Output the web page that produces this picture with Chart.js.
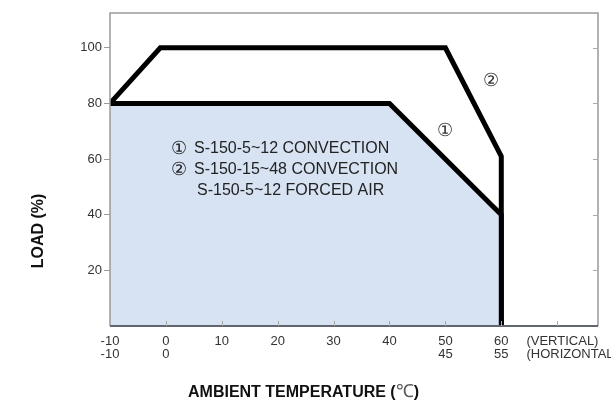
<!DOCTYPE html>
<html>
<head>
<meta charset="utf-8">
<script src="https://cdn.jsdelivr.net/npm/chart.js@4/dist/chart.umd.min.js"></script>
<style>
	html, body { margin: 0; padding: 0; background: #fff; }
	#wrap { width: 611px; height: 404px; }
</style>
</head>
<body>
<div id="wrap"><canvas id="derating"></canvas></div>
<script>
	/*-----data-----*/
	var tempConv = [-10, 40, 60, 60];          // curve 1
	var loadConv = [80, 80, 40, 0];
	var tempForced = [-10, -1, 50, 60, 60];    // curve 2
	var loadForced = [80, 100, 100, 61, 0];

	var xTicks = [-10, 0, 10, 20, 30, 40, 50, 60, 70];
	var xTicksVertical = ['-10', '0', '10', '20', '30', '40', '50', '60', ''];
	var xTicksHorizontal = ['-10', '0', '', '', '', '', '45', '55', ''];
	var yTicks = [20, 40, 60, 80, 100];

	var noteLines = ['S-150-5~12 CONVECTION', 'S-150-15~48 CONVECTION', 'S-150-5~12 FORCED AIR'];
	var noteMarks = ['\u2460', '\u2461', ''];

	var FONT = "'Liberation Sans', Arial, sans-serif";

	function pts(xs, ys) {
		return xs.map(function(x, i) { return { x: x, y: ys[i] }; });
	}

	/*-----frame, inner ticks and labels-----*/
	var extras = {
		id: 'extras',
		afterDatasetsDraw: function(chart) {
			var ctx = chart.ctx, a = chart.chartArea;
			var sx = chart.scales.x, sy = chart.scales.y;
			ctx.save();

			// frame
			ctx.strokeStyle = '#9a9a9a';
			ctx.lineWidth = 1.5;
			ctx.beginPath();
			ctx.moveTo(a.left, a.bottom);
			ctx.lineTo(a.left, a.top);
			ctx.lineTo(a.right, a.top);
			ctx.lineTo(a.right, a.bottom);
			ctx.stroke();
			ctx.strokeStyle = '#5f6670';
			ctx.lineWidth = 2;
			ctx.beginPath();
			ctx.moveTo(a.left, a.bottom);
			ctx.lineTo(a.right, a.bottom);
			ctx.stroke();

			// inside ticks
			ctx.strokeStyle = '#aaaaaa';
			ctx.lineWidth = 1;
			ctx.beginPath();
			xTicks.forEach(function(v) {
				if (v === -10) return;
				var px = Math.round(sx.getPixelForValue(v)) + 0.5;
				ctx.moveTo(px, a.bottom);
				ctx.lineTo(px, a.bottom - 5);
			});
			yTicks.forEach(function(v) {
				var py = Math.round(sy.getPixelForValue(v)) + 0.5;
				ctx.moveTo(a.right, py);
				ctx.lineTo(a.right - 5, py);
			});
			ctx.stroke();

			// mounting note right of the x labels
			ctx.fillStyle = '#333';
			ctx.font = '13px ' + FONT;
			ctx.textAlign = 'left';
			ctx.textBaseline = 'top';
			var nx = sx.getPixelForValue(64.5);
			ctx.fillText('(VERTICAL)', nx, a.bottom + 9);
			ctx.fillText('(HORIZONTAL)', nx, a.bottom + 22);

			// curve markers
			ctx.font = '18px ' + FONT;
			ctx.textAlign = 'center';
			ctx.textBaseline = 'middle';
			ctx.fillStyle = '#333';
			ctx.fillText('\u2460', sx.getPixelForValue(50), sy.getPixelForValue(70));
			ctx.fillText('\u2461', sx.getPixelForValue(58.2), sy.getPixelForValue(88));

			// legend note inside the fill
			ctx.textAlign = 'left';
			ctx.textBaseline = 'alphabetic';
			ctx.fillStyle = '#222';
			var tx = sx.getPixelForValue(1.1);
			noteLines.forEach(function(t, i) {
				var by = sy.getPixelForValue(62.2 - i * 7.55);
				if (noteMarks[i]) {
					ctx.font = '18px ' + FONT;
					ctx.fillText(noteMarks[i], tx - 1, by + 1);
				}
				ctx.font = '16px ' + FONT;
				ctx.fillText(t, tx + 22 + (i === 2 ? 3 : 0), by);
			});

			// axis titles
			ctx.fillStyle = '#111';
			ctx.font = 'bold 16px ' + FONT;
			ctx.textAlign = 'left';
			ctx.textBaseline = 'alphabetic';
			var title = 'AMBIENT TEMPERATURE (';
			var tw = ctx.measureText(title).width;
			var tx0 = 188, ty0 = 397;
			ctx.fillText(title, tx0, ty0);
			ctx.font = '18px ' + FONT;
			ctx.fillStyle = '#555';
			var cw = ctx.measureText('\u2103').width;
			ctx.fillText('\u2103', tx0 + tw, ty0);
			ctx.font = 'bold 16px ' + FONT;
			ctx.fillStyle = '#111';
			ctx.fillText(')', tx0 + tw + cw, ty0);

			ctx.translate(43, 231);
			ctx.rotate(-Math.PI / 2);
			ctx.textAlign = 'center';
			ctx.fillText('LOAD (%)', 0, 0);

			ctx.restore();
		}
	};

	/*-----derating chart-----*/
	var ctx = document.getElementById('derating').getContext('2d');
	new Chart(ctx, {
		type: 'line',
		data: {
			datasets: [{
				label: 'curve 1',
				data: pts(tempConv, loadConv),
				borderColor: '#000',
				borderWidth: 5,
				borderJoinStyle: 'miter',
				backgroundColor: '#d7e3f3',
				fill: 'origin',
				pointRadius: 0,
				tension: 0
			}, {
				label: 'curve 2',
				data: pts(tempForced, loadForced),
				borderColor: '#000',
				borderWidth: 5,
				borderJoinStyle: 'miter',
				fill: false,
				pointRadius: 0,
				tension: 0
			}]
		},
		options: {
			responsive: true,
			maintainAspectRatio: false,
			animation: false,
			layout: {
				padding: { top: 13, right: 13, left: 0, bottom: 0 }
			},
			plugins: {
				legend: { display: false },
				tooltip: { enabled: false }
			},
			scales: {
				x: {
					type: 'linear',
					min: -10,
					max: 77.3,
					afterFit: function(s) { s.height = 78; },
					afterBuildTicks: function(s) {
						s.ticks = xTicks.map(function(v) { return { value: v }; });
					},
					border: { display: false },
					grid: { display: false, drawTicks: false },
					ticks: {
						autoSkip: false,
						maxRotation: 0,
						padding: 9,
						color: '#333',
						font: { family: FONT, size: 13, lineHeight: 1 },
						callback: function(v) {
							var i = xTicks.indexOf(v);
							if (i < 0) return '';
							return xTicksHorizontal[i] ? [xTicksVertical[i], xTicksHorizontal[i]] : xTicksVertical[i];
						}
					}
				},
				y: {
					min: 0,
					max: 112.5,
					afterFit: function(s) { s.width = 110; },
					afterBuildTicks: function(s) {
						s.ticks = yTicks.map(function(v) { return { value: v }; });
					},
					border: { display: false },
					grid: {
						drawOnChartArea: false,
						drawTicks: true,
						tickLength: 6,
						color: '#9a9a9a'
					},
					ticks: {
						padding: 2,
						color: '#333',
						font: { family: FONT, size: 13 }
					}
				}
			}
		},
		plugins: [extras]
	});
</script>
</body>
</html>
